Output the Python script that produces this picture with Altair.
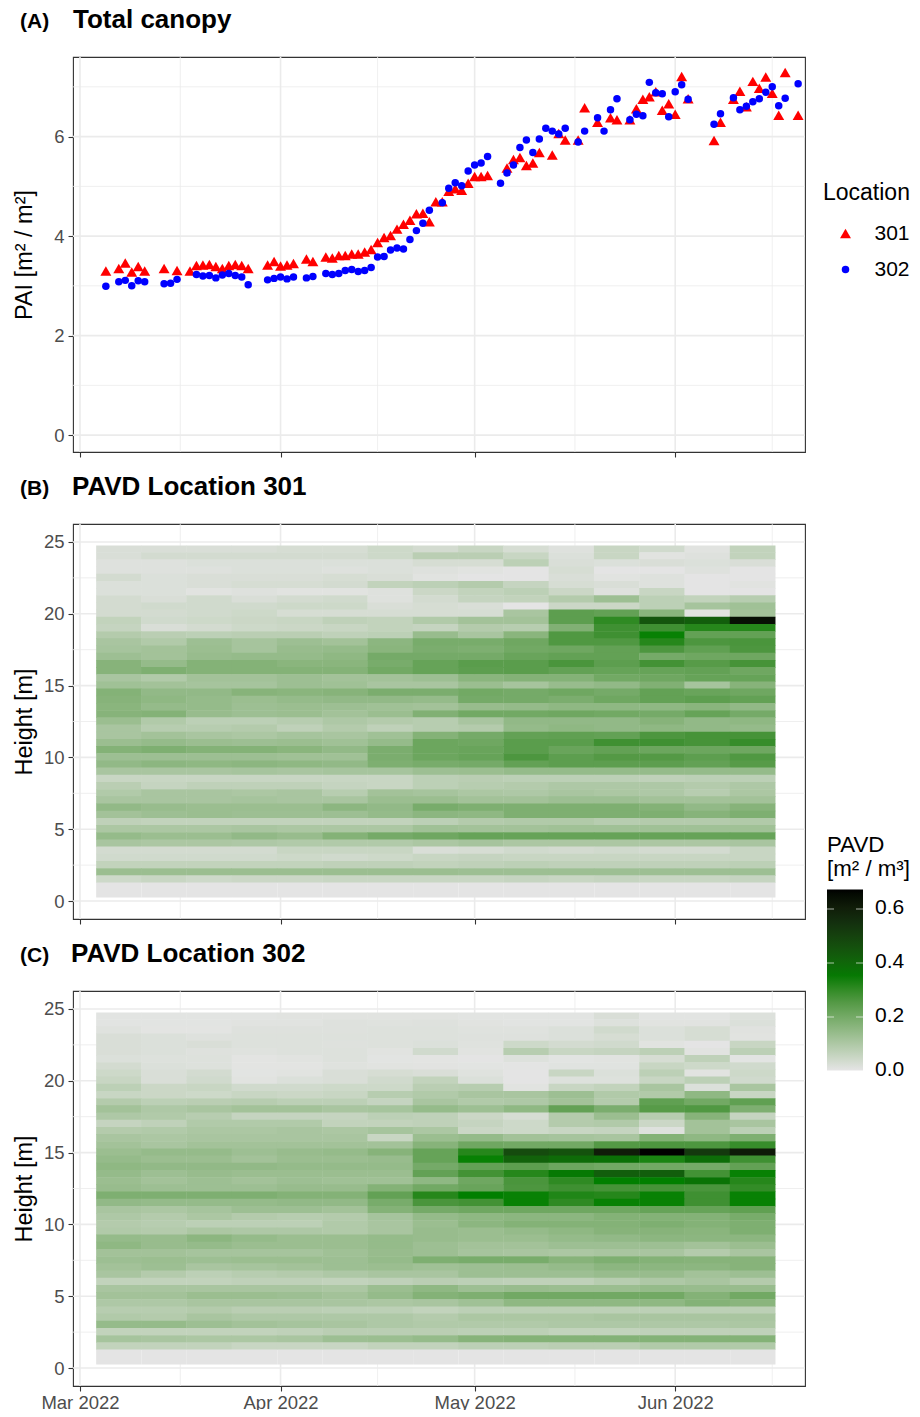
import altair as alt
import pandas as pd

# ---- Panel A: plant area index
days_301 = ["03-05","03-07","03-08","03-09","03-10","03-11","03-14","03-16","03-18","03-19","03-20","03-21","03-22","03-23","03-24","03-25","03-26","03-27","03-30","03-31",
            "04-01","04-02","04-03","04-05","04-06","04-08","04-09","04-10","04-11","04-12","04-13","04-14","04-15","04-16","04-17","04-18","04-19","04-20","04-21","04-22","04-23","04-24","04-25","04-26","04-27","04-28","04-29","04-30",
            "05-01","05-02","05-03","05-06","05-07","05-08","05-09","05-10","05-11","05-13","05-14","05-15","05-17","05-18","05-20","05-22","05-23","05-25","05-26","05-27","05-28","05-29","05-30","05-31",
            "06-01","06-02","06-03","06-07","06-08","06-10","06-11","06-12","06-13","06-14","06-15","06-16","06-17","06-18","06-20"]
pai_301 = [3.30,3.35,3.46,3.28,3.39,3.30,3.35,3.31,3.30,3.41,3.42,3.43,3.39,3.35,3.41,3.43,3.41,3.35,3.42,3.49,
           3.40,3.42,3.45,3.54,3.49,3.58,3.56,3.61,3.61,3.64,3.64,3.68,3.73,3.87,3.97,4.01,4.14,4.24,4.32,4.45,4.46,4.29,4.69,4.69,4.90,4.95,4.92,5.06,
           5.20,5.20,5.22,5.37,5.54,5.58,5.42,5.47,5.68,5.63,6.06,5.93,5.93,6.58,6.29,6.38,6.34,6.34,6.56,6.75,6.80,6.90,6.53,6.66,
           6.45,7.21,6.76,5.92,6.29,6.75,6.91,6.60,7.11,6.97,7.20,6.87,6.43,7.29,6.43]
days_302 = ["03-05","03-07","03-08","03-09","03-10","03-11","03-14","03-15","03-16","03-19","03-20","03-21","03-22","03-23","03-24","03-25","03-26","03-27","03-30","03-31",
            "04-01","04-02","04-03","04-05","04-06","04-08","04-09","04-10","04-11","04-12","04-13","04-14","04-15","04-16","04-17","04-18","04-19","04-20","04-21","04-22","04-23","04-24","04-26","04-27","04-28","04-29","04-30",
            "05-01","05-02","05-03","05-05","05-06","05-07","05-08","05-09","05-10","05-11","05-12","05-13","05-14","05-15","05-17","05-18","05-20","05-21","05-22","05-23","05-25","05-26","05-27","05-28","05-29","05-30","05-31",
            "06-01","06-02","06-03","06-07","06-08","06-10","06-11","06-12","06-13","06-14","06-15","06-16","06-17","06-18","06-20"]
pai_302 = [2.99,3.08,3.11,3.00,3.10,3.08,3.04,3.05,3.13,3.23,3.20,3.21,3.16,3.22,3.25,3.21,3.18,3.02,3.12,3.15,
           3.18,3.14,3.18,3.16,3.19,3.25,3.23,3.25,3.31,3.33,3.29,3.31,3.37,3.58,3.59,3.72,3.76,3.74,3.93,4.11,4.26,4.52,4.67,4.96,5.07,5.01,5.31,
           5.43,5.47,5.60,5.06,5.27,5.43,5.78,5.93,5.68,5.95,6.17,6.11,6.05,6.17,5.89,6.11,6.38,6.11,6.54,6.76,6.34,6.45,6.42,7.09,6.88,6.86,6.40,
           6.90,7.04,6.75,6.25,6.46,6.78,6.54,6.61,6.70,6.76,6.89,7.00,6.62,6.77,7.06]

# ---- Panels B, C: PAVD rows, top (24.5 m) to bottom (1.5 m), one value per week
pavd_301 = [
 [.02,.02,.02,.02,.025,.025,.04,.03,.05,.025,.01,.05,.035,.005,.06],
 [.02,.03,.03,.03,.03,.03,.04,.075,.075,.05,.015,.05,.005,.01,.06],
 [.01,.01,.015,.015,.015,.015,.015,.025,.025,.07,.02,.015,.02,.015,.02],
 [.01,.01,.01,.015,.015,.01,.015,.01,.005,.0,.025,.0,.0,.01,.0],
 [.03,.015,.02,.02,.02,.025,.02,.005,.0,.0,.02,.005,.01,.0,.0],
 [.015,.015,.02,.025,.025,.03,.06,.07,.085,.055,.025,.02,.01,.0,.005],
 [.015,.015,.005,.01,.005,.005,.01,.045,.06,.07,.045,.01,.05,.0,.0],
 [.03,.02,.035,.02,.03,.035,.01,.03,.055,.06,.085,.125,.07,.06,.08],
 [.03,.035,.035,.035,.04,.04,.02,.025,.02,.0,.045,.045,.07,.11,.12],
 [.03,.03,.035,.04,.025,.025,.025,.025,.025,.105,.235,.225,.16,.005,.115],
 [.06,.035,.04,.045,.05,.065,.06,.09,.115,.115,.235,.30,.44,.42,.64],
 [.055,.02,.03,.04,.045,.05,.06,.055,.085,.08,.175,.28,.28,.31,.31],
 [.085,.075,.07,.075,.075,.065,.07,.135,.105,.16,.255,.28,.33,.225,.225],
 [.105,.09,.125,.11,.125,.115,.155,.19,.19,.205,.255,.255,.31,.26,.265],
 [.11,.115,.13,.11,.135,.14,.16,.185,.18,.2,.205,.225,.26,.23,.26],
 [.125,.115,.135,.14,.14,.15,.195,.195,.195,.215,.225,.225,.195,.205,.205],
 [.165,.14,.17,.17,.16,.16,.19,.22,.24,.24,.265,.235,.275,.245,.27],
 [.165,.18,.17,.17,.17,.17,.2,.22,.235,.24,.225,.22,.22,.225,.205],
 [.105,.09,.115,.115,.125,.115,.115,.125,.16,.17,.17,.2,.205,.22,.22],
 [.12,.115,.11,.11,.125,.12,.105,.105,.13,.11,.135,.145,.175,.11,.165],
 [.17,.145,.145,.165,.16,.165,.185,.185,.2,.195,.205,.195,.225,.215,.205],
 [.165,.15,.14,.13,.14,.145,.145,.14,.195,.195,.185,.205,.225,.235,.225],
 [.16,.14,.14,.125,.13,.125,.12,.115,.135,.14,.15,.15,.15,.16,.145],
 [.165,.17,.135,.125,.13,.115,.13,.175,.2,.2,.205,.2,.195,.22,.195],
 [.13,.09,.07,.07,.08,.095,.085,.08,.105,.145,.145,.145,.165,.145,.15],
 [.105,.08,.08,.085,.065,.085,.065,.08,.085,.14,.15,.145,.15,.145,.14],
 [.105,.115,.105,.1,.11,.105,.12,.17,.195,.225,.23,.225,.26,.27,.27],
 [.13,.14,.13,.125,.13,.12,.14,.21,.205,.24,.24,.28,.28,.27,.29],
 [.17,.18,.17,.17,.16,.145,.185,.21,.215,.24,.215,.225,.21,.21,.205],
 [.125,.125,.125,.125,.12,.12,.185,.21,.22,.26,.235,.25,.25,.235,.255],
 [.145,.155,.15,.155,.15,.145,.18,.19,.195,.225,.235,.235,.235,.225,.245],
 [.105,.105,.105,.11,.105,.11,.11,.125,.13,.14,.14,.14,.14,.14,.14],
 [.05,.05,.05,.05,.05,.05,.05,.07,.075,.07,.07,.07,.065,.07,.07],
 [.075,.055,.065,.065,.065,.055,.05,.07,.08,.085,.095,.095,.095,.085,.095],
 [.09,.105,.105,.1,.105,.08,.115,.11,.1,.095,.105,.1,.095,.08,.1],
 [.105,.105,.105,.11,.105,.105,.13,.13,.115,.115,.125,.125,.115,.115,.115],
 [.145,.135,.13,.13,.13,.155,.145,.19,.18,.18,.18,.18,.17,.145,.165],
 [.115,.125,.13,.125,.125,.125,.14,.155,.15,.18,.18,.18,.18,.165,.18],
 [.065,.06,.06,.06,.06,.06,.06,.07,.085,.09,.09,.08,.085,.085,.09],
 [.1,.1,.1,.105,.1,.1,.1,.12,.115,.115,.12,.12,.12,.12,.12],
 [.14,.13,.13,.145,.135,.17,.195,.205,.22,.22,.22,.22,.22,.22,.22],
 [.105,.1,.1,.095,.09,.09,.09,.1,.11,.1,.1,.1,.1,.1,.105],
 [.03,.03,.03,.03,.05,.05,.05,.02,.025,.035,.03,.035,.03,.03,.05],
 [.035,.035,.035,.035,.04,.035,.04,.05,.055,.05,.05,.05,.05,.05,.05],
 [.06,.06,.06,.06,.06,.065,.065,.06,.065,.07,.065,.065,.065,.065,.07],
 [.13,.13,.13,.13,.13,.13,.13,.13,.125,.125,.125,.125,.125,.125,.125],
 [.04,.05,.04,.045,.045,.05,.05,.05,.05,.055,.05,.055,.05,.05,.055],
]
pavd_302 = [
 [.003,.003,.003,.003,.005,.005,.005,.005,.003,.003,.003,.02,.003,.003,.012],
 [.003,.003,.003,.005,.005,.01,.008,.01,.005,.003,.003,.012,.005,.005,.015],
 [.008,.002,.002,.01,.01,.01,.012,.012,.008,.008,.015,.035,.015,.025,.007],
 [.02,.015,.01,.012,.012,.012,.012,.012,.01,.01,.015,.025,.015,.025,.005],
 [.02,.015,.02,.012,.012,.01,.012,.015,.008,.04,.03,.035,.005,.0,.05],
 [.02,.015,.01,.008,.012,.012,.005,.035,.005,.08,.05,.055,.07,.005,.07],
 [.015,.012,.012,.002,.005,.012,.003,.002,.0,.012,.003,.005,.025,.065,.003],
 [.03,.015,.012,.002,.002,.008,.005,.004,.003,.001,.006,.006,.05,.04,.035],
 [.04,.02,.03,.003,.005,.02,.025,.02,.008,.0,.05,.015,.07,.005,.04],
 [.05,.02,.035,.005,.015,.02,.035,.06,.015,.0,.012,.012,.05,.07,.035],
 [.07,.045,.05,.035,.035,.04,.04,.075,.08,.005,.05,.06,.105,.015,.105],
 [.05,.045,.04,.05,.045,.05,.08,.09,.105,.105,.125,.09,.09,.15,.05],
 [.085,.07,.075,.08,.07,.07,.055,.105,.09,.095,.115,.085,.23,.2,.23],
 [.115,.095,.105,.115,.115,.105,.11,.14,.125,.15,.225,.185,.245,.255,.18],
 [.095,.09,.08,.055,.055,.055,.07,.065,.045,.025,.085,.13,.08,.165,.055],
 [.055,.065,.09,.09,.09,.06,.06,.065,.055,.04,.085,.09,.045,.115,.105],
 [.085,.09,.1,.1,.105,.1,.11,.1,.045,.04,.05,.055,.01,.115,.07],
 [.105,.1,.105,.105,.105,.105,.05,.13,.14,.115,.11,.105,.17,.15,.18],
 [.115,.105,.115,.115,.115,.115,.115,.165,.205,.2,.2,.25,.26,.26,.29],
 [.13,.14,.14,.125,.135,.14,.165,.22,.31,.47,.45,.6,.667,.52,.61],
 [.14,.13,.13,.115,.13,.13,.135,.22,.33,.41,.385,.37,.32,.38,.28],
 [.15,.145,.145,.145,.14,.14,.14,.195,.225,.235,.21,.2,.2,.195,.225],
 [.14,.125,.135,.13,.13,.13,.13,.225,.275,.31,.35,.42,.42,.275,.33],
 [.13,.115,.125,.115,.125,.12,.12,.15,.205,.265,.3,.335,.335,.365,.31],
 [.135,.125,.125,.125,.135,.135,.17,.2,.215,.26,.28,.27,.27,.265,.295],
 [.18,.18,.18,.18,.17,.17,.225,.31,.335,.33,.315,.31,.33,.28,.33],
 [.145,.14,.14,.14,.145,.145,.19,.265,.275,.33,.3,.33,.33,.28,.33],
 [.105,.1,.11,.125,.125,.115,.17,.195,.205,.205,.205,.205,.22,.22,.23],
 [.095,.085,.1,.085,.08,.085,.11,.14,.15,.155,.155,.17,.17,.17,.19],
 [.085,.08,.07,.07,.07,.09,.105,.13,.155,.17,.17,.17,.18,.17,.18],
 [.09,.085,.1,.095,.095,.09,.105,.135,.13,.14,.15,.165,.165,.16,.18],
 [.14,.135,.155,.14,.13,.13,.14,.135,.13,.13,.14,.145,.155,.155,.155],
 [.15,.135,.14,.13,.13,.13,.14,.125,.115,.115,.125,.125,.125,.115,.13],
 [.115,.115,.11,.11,.11,.12,.135,.125,.11,.105,.1,.105,.105,.085,.105],
 [.125,.13,.125,.13,.13,.125,.14,.18,.19,.19,.165,.18,.17,.165,.165],
 [.115,.125,.105,.11,.115,.125,.13,.12,.125,.13,.14,.155,.155,.155,.165],
 [.105,.085,.07,.08,.085,.095,.105,.105,.125,.125,.125,.135,.135,.115,.125],
 [.06,.06,.06,.065,.065,.06,.065,.075,.07,.065,.065,.08,.095,.105,.085],
 [.105,.105,.105,.105,.105,.1,.13,.15,.125,.135,.13,.13,.14,.135,.135],
 [.115,.115,.13,.13,.125,.115,.14,.17,.18,.2,.2,.2,.2,.17,.2],
 [.095,.095,.105,.105,.105,.105,.1,.105,.12,.15,.15,.15,.15,.17,.16],
 [.08,.08,.085,.075,.075,.07,.07,.06,.07,.07,.07,.07,.07,.07,.07],
 [.09,.085,.105,.095,.095,.095,.095,.085,.1,.1,.1,.105,.105,.105,.105],
 [.14,.14,.125,.115,.11,.105,.095,.09,.09,.09,.095,.095,.095,.095,.1],
 [.06,.06,.06,.06,.065,.075,.075,.075,.07,.07,.06,.06,.065,.065,.065],
 [.11,.105,.1,.1,.105,.125,.13,.14,.165,.17,.17,.17,.17,.17,.17],
 [.06,.06,.06,.05,.05,.05,.06,.06,.07,.07,.075,.075,.09,.09,.09],
]
week_starts = pd.date_range("2022-03-03T12:00:00", periods=15, freq="7D")
top_height = 24.75
row_step = 0.5
ground_row = (0.25, 1.25)   # the lowest, empty, taller cell
seam = 0.04                 # overlap of neighbouring cells, hides antialiasing seams (m)
seam_days = pd.Timedelta(hours=1.5)

month_ticks = ["2022-03-01T00:00:00", "2022-04-01T00:00:00", "2022-05-01T00:00:00", "2022-06-01T00:00:00"]
month_minor = ["2022-03-16T12:00:00", "2022-04-16T00:00:00", "2022-05-16T12:00:00", "2022-06-16T00:00:00"]
x_domain = ["2022-02-27T22:05:00", "2022-06-21T01:30:00"]
pai_major = [0, 2, 4, 6]
pai_minor = [1, 3, 5, 7]
h_major = [0, 5, 10, 15, 20, 25]
h_minor = [2.5, 7.5, 12.5, 17.5, 22.5]
bar_ticks_y = [-82, -28, 26]    # colour-bar tick rows, relative to panel C, which is drawn over the legend

W, H = 732, 395
GRID = "#ebebeb"
TXT = "#4d4d4d"
FONT = "Liberation Sans"
x_scale = alt.Scale(domain=x_domain)


def x_axis(labels):
    return alt.Axis(values=month_ticks, format="%b %Y", labels=labels, title=None, grid=False, domain=False,
                    tickColor="#333333", tickSize=5, tickWidth=1.1, labelFontSize=18.5, labelColor=TXT,
                    labelPadding=2, labelFont=FONT, labelOverlap=False)


def y_axis(title, ticks, pad):
    return alt.Axis(values=ticks, title=title, grid=False, domain=False, tickColor="#333333", tickSize=5, tickWidth=1.1,
                    labelFontSize=18.5, labelColor=TXT, labelFont=FONT, labelPadding=4, titleFontSize=23.5,
                    titleFontWeight="normal", titleColor="#000000", titleFont=FONT, titlePadding=pad)


def grid_layers(y_scale, y_major, y_minor, xa, ya):
    out = []
    for vals, w in ((month_minor, 0.8), (month_ticks, 1.6)):
        out.append(alt.Chart(pd.DataFrame({"d": pd.to_datetime(vals)})).mark_rule(color=GRID, strokeWidth=w)
                   .encode(x=alt.X("d:T", scale=x_scale, axis=xa)))
    for vals, w in ((y_minor, 0.8), (y_major, 1.6)):
        out.append(alt.Chart(pd.DataFrame({"v": vals})).mark_rule(color=GRID, strokeWidth=w)
                   .encode(y=alt.Y("v:Q", scale=y_scale, axis=ya)))
    return out


def tag(text):
    return (alt.Chart(pd.DataFrame({"t": [text]}))
            .mark_text(font=FONT, fontWeight="bold", fontSize=21, align="left", baseline="middle", color="#000000")
            .encode(text="t:N", x=alt.value(-53), y=alt.value(-35)))


def head(text, dx=0):
    return (alt.Chart(pd.DataFrame({"t": [text]}))
            .mark_text(font=FONT, fontWeight="bold", fontSize=26, align="left", baseline="middle", color="#000000")
            .encode(text="t:N", x=alt.value(dx), y=alt.value(-37)))


# Panel A
pai = pd.concat([
    pd.DataFrame({"date": pd.to_datetime(["2022-" + d + "T00:00:00" for d in days_301]), "pai": pai_301, "loc": "301"}),
    pd.DataFrame({"date": pd.to_datetime(["2022-" + d + "T00:00:00" for d in days_302]), "pai": pai_302, "loc": "302"}),
])
y_a = alt.Scale(domain=[-0.34, 7.6], nice=False, zero=False)
loc_legend = alt.Legend(title="Location", orient="none", legendX=750, legendY=125, titleFontSize=23, titleFont=FONT,
                        titleFontWeight="normal", titleColor="#000000", labelFontSize=21, labelFont=FONT,
                        labelColor="#000000", rowPadding=14, titlePadding=18, labelOffset=18.5, symbolOffset=12)
xa_a, ya_a = x_axis(False), y_axis("PAI [m² / m²]", pai_major, 17)
points = alt.Chart(pai).mark_point(filled=True, opacity=1).encode(
    x=alt.X("date:T", scale=x_scale, axis=xa_a),
    y=alt.Y("pai:Q", scale=y_a, axis=ya_a),
    color=alt.Color("loc:N", scale=alt.Scale(domain=["301", "302"], range=["#ff0000", "#0000ff"]), legend=loc_legend),
    shape=alt.Shape("loc:N", scale=alt.Scale(domain=["301", "302"], range=["triangle-up", "circle"]), legend=loc_legend),
    size=alt.Size("loc:N", scale=alt.Scale(domain=["301", "302"], range=[120, 56]), legend=loc_legend),
)
panel_a = alt.layer(*grid_layers(y_a, pai_major, pai_minor, xa_a, ya_a), points, tag("(A)"), head("Total canopy")).properties(
    width=W, height=H)

# Panels B, C
y_h = alt.Scale(domain=[-1.25, 26.25], nice=False, zero=False)
colour = alt.Scale(domain=[-0.002, 1 / 3, 2 / 3], range=["#e5e5e5", "#008000", "#000000"], interpolate="lab", clamp=True)


def cells(rows):
    recs = []
    for i, row in enumerate(rows):
        for j, (s, v) in enumerate(zip(week_starts, row)):
            recs.append({"t0": s - (seam_days if j else pd.Timedelta(0)), "t1": s + pd.Timedelta(days=7),
                         "h0": top_height - row_step * (i + 1),
                         "h1": top_height - row_step * i + (seam if i else 0), "pavd": v})
    for s in week_starts:
        recs.append({"t0": s, "t1": s + pd.Timedelta(days=7), "h0": ground_row[0], "h1": ground_row[1] + seam, "pavd": 0.0})
    return pd.DataFrame(recs)


def bar_ticks():
    out = []
    for y in bar_ticks_y:
        for a, b in ((754, 761), (783, 790)):
            out.append(alt.Chart(pd.DataFrame({"k": [0]})).mark_rule(color="#ffffff", strokeWidth=0.8, opacity=0.8)
                       .encode(x=alt.value(a), x2=alt.value(b), y=alt.value(y)))
    return out


def heat(rows, name, tag_text, dx, legend, labels, extra=()):
    xa, ya = x_axis(labels), y_axis("Height [m]", h_major, 7)
    rect = alt.Chart(cells(rows)).mark_rect().encode(
        x=alt.X("t0:T", scale=x_scale, axis=xa),
        x2="t1:T",
        y=alt.Y("h0:Q", scale=y_h, axis=ya),
        y2="h1:Q",
        color=alt.Color("pavd:Q", scale=colour, legend=legend),
    )
    return alt.layer(*grid_layers(y_h, h_major, h_minor, xa, ya), rect, tag(tag_text), head(name, dx), *extra).properties(
        width=W, height=H)


pavd_legend = alt.Legend(title=["PAVD", "[m² / m³]"], orient="none", legendX=754, legendY=310, gradientLength=181,
                         gradientThickness=36, values=[0, 0.2, 0.4, 0.6], titleFontSize=22.3, titleFont=FONT,
                         titleFontWeight="normal", titleColor="#000000", labelFontSize=21, labelFont=FONT,
                         labelColor="#000000", labelOffset=12, titlePadding=9, gradientStrokeWidth=0, type="gradient")
panel_b = heat(pavd_301, "PAVD Location 301", "(B)", -1, pavd_legend, False)
panel_c = heat(pavd_302, "PAVD Location 302", "(C)", -2, None, True, bar_ticks())

chart = (alt.vconcat(panel_a, panel_b, panel_c, spacing=72, bounds="flush")
         .resolve_scale(x="independent", y="independent", color="independent", shape="independent", size="independent")
         .properties(padding={"left": 3, "top": -2, "right": -1, "bottom": -3}, background="#ffffff")
         .configure_view(stroke="#333333", strokeWidth=1.1))
chart.save("out.html", embed_options={"renderer": "svg", "actions": False})
